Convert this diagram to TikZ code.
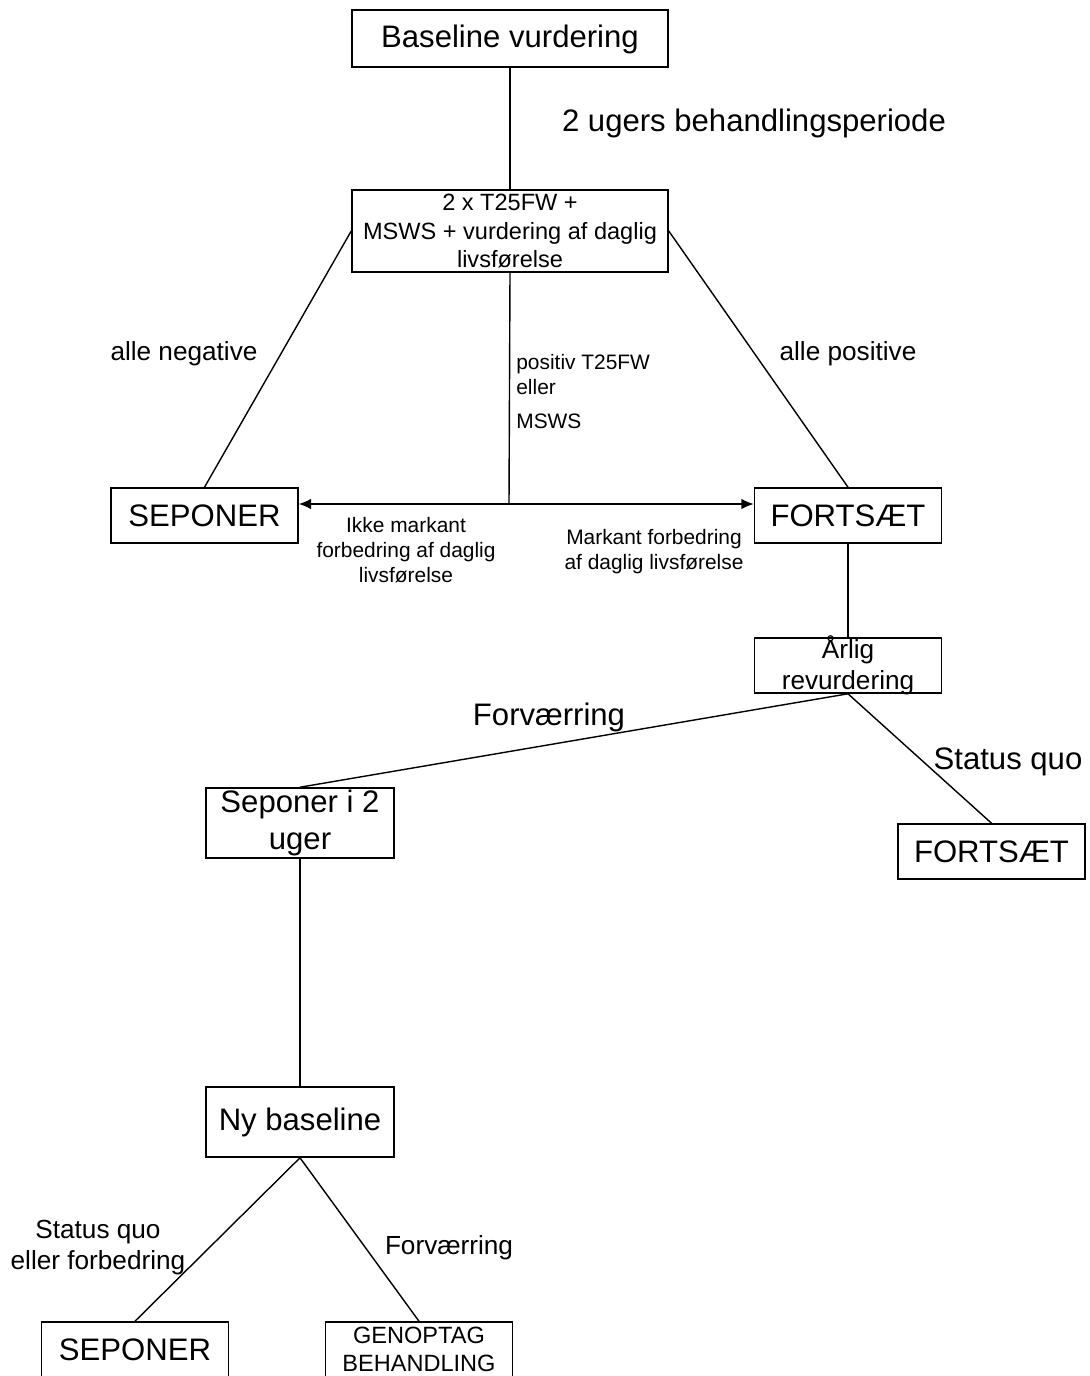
\documentclass[tikz,border=0pt]{standalone}
\usepackage{fontspec}
\setmainfont{Liberation Sans}
\usetikzlibrary{arrows.meta}
\newcommand{\fbig}{\fontsize{17.7pt}{21.5pt}\selectfont}
\newcommand{\fmid}{\fontsize{14.9pt}{17.6pt}\selectfont}
\newcommand{\fsmall}{\fontsize{13.4pt}{16pt}\selectfont}
\newcommand{\ftiny}{\fontsize{11.9pt}{14.4pt}\selectfont}
\begin{document}
\begin{tikzpicture}[x=0.02cm, y=-0.02cm,
  box/.style={draw, line width=0.9pt, inner sep=0pt, align=center, minimum width=3.74cm, minimum height=1.1cm},
  widebox/.style={box, minimum width=6.32cm},
  tallbox/.style={box, minimum width=3.76cm, minimum height=1.4cm},
  lbl/.style={yshift=-1.7pt},
  link/.style={line width=0.8pt}]
\useasboundingbox (0, 0) rectangle (1089, 1376);
\clip (0, 0) rectangle (1089, 1376);
\path (510, 38.5) node[widebox, minimum height=1.14cm, font=\fbig, text depth=0.5ex] (baseline) {Baseline vurdering};
\path (510, 231) node[widebox, minimum height=1.64cm, font=\fsmall] (test) {2 x T25FW +\\MSWS + vurdering af daglig\\livsførelse};
\path (204.5, 515.5) node[box, font=\fbig] (seponerA) {SEPONER};
\path (848, 515.5) node[box, font=\fbig] (fortsaetA) {FORTSÆT};
\path (848, 665.5) node[box, label={[font=\fmid, align=center]center:Årlig\\revurdering}] (arlig) {};
\path (300, 823) node[tallbox, font=\fbig] (seponerTwo) {Seponer i 2\\uger};
\path (991.5, 851.5) node[box, font=\fbig] (fortsaetB) {FORTSÆT};
\path (300, 1122) node[tallbox, font=\fbig] (nybase) {Ny baseline};
\path (135, 1349.5) node[box, font=\fbig] (seponerB) {SEPONER};
\path (419, 1349.5) node[box, font=\fsmall] (genoptag) {GENOPTAG\\BEHANDLING};
\path (509, 504) coordinate (split);
\path (754, 120) node[lbl, font=\fbig] (period) {2 ugers behandlingsperiode};
\path (184, 351) node[lbl, font=\fmid] (negative) {alle negative};
\path (848, 351) node[lbl, font=\fmid] (positive) {alle positive};
\path (516, 354) node[anchor=north west, inner sep=0pt, font=\ftiny, align=left] (eitherpos) {positiv T25FW\\eller\\[4.6pt]MSWS};
\path (406, 550) node[font=\ftiny, align=center] (notmarked) {Ikke markant\\forbedring af daglig\\livsførelse};
\path (654, 548.5) node[lbl, font=\ftiny, align=center] (marked) {Markant forbedring\\af daglig livsførelse};
\path (549, 714) node[lbl, font=\fbig] (worseA) {Forværring};
\path (1008, 759) node[lbl, font=\fbig] (statusA) {Status quo};
\path (98, 1245) node[lbl, font=\fmid, align=center] (statusB) {Status quo\\eller forbedring};
\path (449, 1245) node[lbl, font=\fmid] (worseB) {Forværring};
\draw[link] (baseline.south) -- (test.north);
\draw[link] (test.west) -- (seponerA.north);
\draw[link] (test.east) -- (fortsaetA.north);
\draw[link] (test.south) -- (split);
\draw[link, -{Latex[length=7pt, width=6pt]}] (split) -- (split -| seponerA.east);
\draw[link, -{Latex[length=7pt, width=6pt]}] (split) -- (split -| fortsaetA.west);
\draw[link] (fortsaetA.south) -- (arlig.north);
\draw[link] (arlig.south) -- (seponerTwo.north);
\draw[link] (arlig.south) -- (fortsaetB.north);
\draw[link] (seponerTwo.south) -- (nybase.north);
\draw[link] (nybase.south) -- (seponerB.north);
\draw[link] (nybase.south) -- (genoptag.north);
\end{tikzpicture}
\end{document}
